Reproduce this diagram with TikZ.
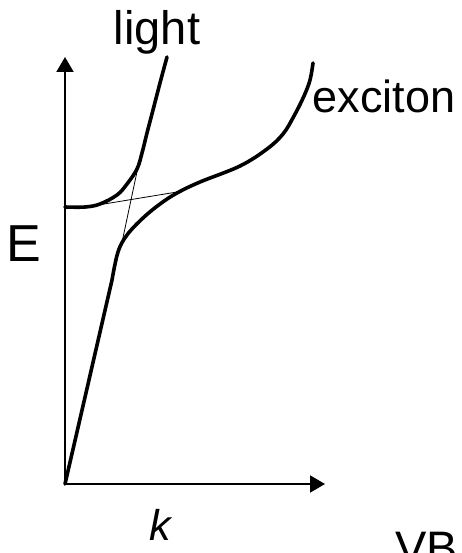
\documentclass[tikz,border=0pt]{standalone}
\usepackage{fontspec}
\setmainfont{Liberation Sans}
\usetikzlibrary{arrows.meta}

\begin{document}
\begin{tikzpicture}[x=1pt, y=-1pt,
  axis/.style={line width=2pt, -{Triangle[length=15pt, width=17pt]}},
  branch/.style={line width=3.6pt, line cap=round, line join=round},
  bare/.style={line width=0.8pt},
  lbl/.style={anchor=base, inner sep=0pt, font=\fontsize{47}{47}\selectfont}]
\useasboundingbox (0,0) rectangle (461,553);
\clip (0,0) rectangle (461,553);
% axes
\coordinate (O) at (65,484);
\coordinate (Etop) at (65,57);
\coordinate (kend) at (325,484);
\draw[axis] (O) -- (Etop);
\draw[axis] (O) -- (kend);
% uncoupled light and exciton lines
\coordinate (lightA) at (121,247);
\coordinate (lightB) at (138,167);
\coordinate (excA) at (98,205);
\coordinate (excB) at (177,192);
\draw[bare] (lightA) -- (lightB);
\draw[bare] (excA) -- (excB);
% lower branch
\draw[branch] (O) -- plot[smooth, tension=0.6] coordinates {(112,280) (118,252) (127,235) (143,218) (160,204) (177,193) (200,182) (240,166) (267,149) (283,134) (294,116) (304,96) (310,80) (313,63)};
% upper branch
\draw[branch] plot[smooth, tension=0.6] coordinates {(65,207) (85,207) (100,204) (117,195) (127,184) (137,169) (142,153) (147,133) (153,110) (160,83) (167,57)};
% labels
\node[lbl] (light) at (157,45) {light};
\node[lbl, font=\fontsize{45}{45}\selectfont] (exciton) at (384,113) {exciton};
\node[lbl, font=\fontsize{52}{52}\selectfont] (E) at (24,261) {E};
\node[lbl, font=\fontsize{43}{43}\selectfont\itshape] (k) at (160,540) {k};
\node[lbl, anchor=base west] (VB) at (395,564) {VB};
\end{tikzpicture}
\end{document}
